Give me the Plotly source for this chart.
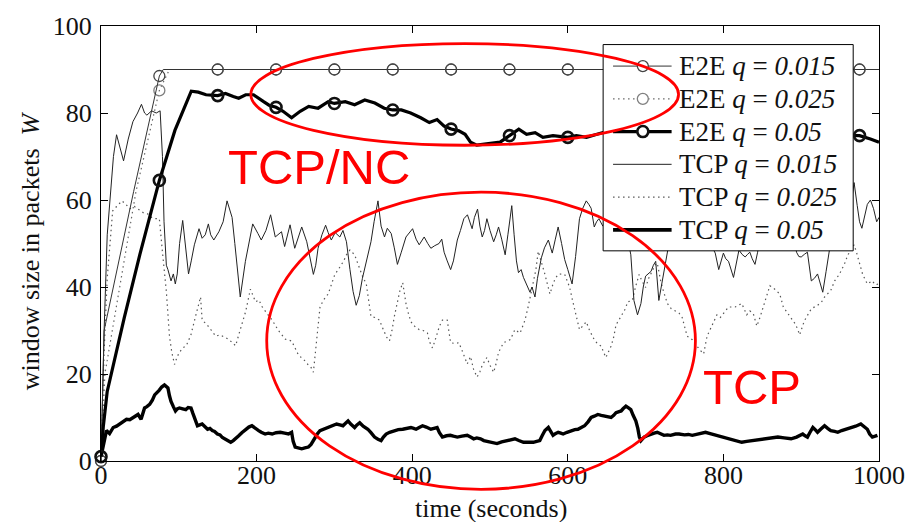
import numpy as np
import plotly.graph_objects as go

# ---------------- data ----------------
marker_times = [0, 75, 150, 225, 300, 375, 450, 525, 600, 675, 750, 825, 900, 975]

e2e_015_t = [0, 4, 42, 75, 80, 150, 225, 300, 375, 450, 525, 600, 675, 750, 825, 900, 975, 1000]
e2e_015_w = [0, 30, 62, 88.5, 90, 90, 90, 90, 90, 90, 90, 90, 90, 90, 90, 90, 90, 90]

e2e_025_t = [0, 5, 45, 75, 88, 150, 225, 300, 375, 450, 525, 600, 675, 750, 825, 900, 975, 1000]
e2e_025_w = [0, 20, 62, 85.2, 90, 90, 90, 90, 90, 90, 90, 90, 90, 90, 90, 90, 90, 90]

e2e_05_t = [0, 3, 8, 30, 50, 75, 95, 116, 125, 135, 150, 160, 170, 177, 186, 196, 209, 216,
            225, 234, 245, 256, 267, 279, 292, 300, 314, 326, 339, 352, 364, 375, 386, 398,
            411, 422, 432, 441, 450, 460, 468, 475, 483, 500, 513, 525, 537, 547, 558, 568,
            581, 600, 611, 624, 637, 645, 660, 675, 700, 725, 750, 775, 800, 825, 850, 875,
            900, 925, 950, 975, 989, 1000]
e2e_05_w = [1, 8, 16, 33, 47.5, 64.5, 76, 85, 84.8, 84.2, 84, 84.5, 83.8, 83.4, 84.2, 84.2, 82.6, 81.8,
            81.3, 80.4, 78.9, 80.4, 81.5, 81.1, 82.6, 82.2, 82.6, 81.9, 83, 82.3, 81.1, 80.7, 80.7, 80,
            78.9, 77.8, 78.5, 77, 76.3, 75.9, 75.1, 73.3, 72.6, 72.9, 73.3, 74.8, 76.3, 75.1, 75.5, 74.4,
            74.8, 74.4, 74.8, 74.4, 75.1, 75.5, 75, 74.8, 75, 74.6, 75, 74.8, 75, 74.6, 75, 74.8,
            75, 74.7, 74.9, 74.8, 74, 73.3]

tcp_015_t = [0, 4, 8, 12, 16, 20, 25, 29, 35, 41, 47, 52, 56, 59, 65, 71, 76, 79, 81, 84, 86, 90, 93,
             95.5, 98, 101, 105, 109, 112.5, 116, 120, 126, 130, 134, 138, 141, 145, 151.5, 157, 162,
             168.5, 172, 176, 179, 185.6, 190, 195, 201.7, 206, 212, 218, 224, 232, 236, 243, 249,
             258, 264.5, 270, 273, 276, 279, 284, 288.7, 292, 296, 301, 307, 311, 315.5, 320, 324,
             328, 332, 336, 341, 347, 351, 356, 360, 364.4, 368, 373, 377, 381, 386, 392, 400.5, 405,
             409, 415.4, 420, 424, 429, 434.5, 438, 441, 445, 449.4, 453, 458, 462, 466.4, 471, 474,
             477, 480, 484, 487, 490, 493, 496, 500, 504.7, 508, 511, 515, 519.5, 523, 526, 528, 531,
             534, 536.6, 540, 543, 547, 551.4, 554, 557.8, 561, 566, 570, 575, 578, 580, 584, 587.6,
             592, 596, 600, 605.5, 610, 615, 619, 623.7, 627, 630, 634, 637, 640, 645, 650, 656, 662,
             668, 674, 678, 681, 685, 689.6, 694, 697, 700, 707, 710, 713, 717, 720, 723, 728, 733,
             740, 748, 756, 764, 772, 780, 786, 789.5, 794, 797, 800, 803, 806.6, 813, 816, 820, 824,
             828, 831, 834, 837, 840.6, 844, 850, 858, 866, 874, 882, 890, 894, 897, 900, 904, 908,
             913, 917, 921, 924, 927.7, 932, 936, 942, 950, 958, 965, 968, 972, 975, 978, 981, 985,
             989, 993, 997, 1000]
tcp_015_w = [0, 30, 52, 62, 70, 75, 72, 69, 74, 78, 80, 82, 80, 79.5, 80.5, 80, 80.5, 70, 55, 45, 44, 41.4, 43,
             40.7, 43, 50, 55.3, 49, 43, 46, 49.7, 53.4, 51.2, 52, 54.5, 52, 50.8, 52.7, 55, 59.8,
             56, 50, 43, 37.7, 45.9, 50, 54.5, 52.3, 50.8, 53, 56.6, 51.5, 52.7, 49.3, 54.3, 48.9,
             53.8, 50.4, 46, 42.9, 45, 48.9, 52, 54.2, 52.5, 50.8, 52.5, 51.5, 53, 50.4, 44, 39,
             35.8, 38, 42, 45.9, 50.4, 55, 59.8, 54, 51.5, 53.5, 52.3, 49, 45.2, 48, 51.5, 53.4, 51,
             49.7, 51.5, 50, 48.9, 49.5, 50, 51, 48, 46, 44, 46, 50.8, 53, 55.7, 56.6, 55,
             53.4, 56, 57.9, 54, 51.5, 53, 55.7, 53, 50.4, 52, 53.8, 51, 47.4, 52, 57, 58.7, 52,
             46, 43.3, 44, 42.2, 40.5, 38.8, 40, 37.7, 42, 46.7, 49, 50.8, 49, 47.8, 51, 53.8,
             50, 46.3, 44, 40.7, 47, 55.7, 58, 59.8, 59, 58.1, 53.8, 55, 55.7, 54, 56, 58, 55,
             57, 54, 50, 47.4, 36.9, 33.6, 36.2, 40, 42.5, 43.6, 45, 45.9, 36.9, 40, 43.6, 48.2, 53,
             57, 55, 58, 54, 56, 53, 49, 47.8, 44, 46, 47.8, 46.5, 45.9, 42.2, 45, 48.5, 47.5,
             46.9, 47.5, 48, 46.5, 45.2, 48, 55, 58, 54, 57, 55, 52, 48, 47, 46.9, 47.5, 48,
             41.4, 42, 43, 41, 38.8, 43.6, 48.5, 55, 58, 55, 60, 64, 58.7, 55, 53.5, 55.7, 59,
             60, 58, 55, 56]

tcp_025_t = [0, 4, 8, 12, 15, 20, 27, 32, 37, 43, 50, 55, 60, 65, 69, 75, 79, 84, 88, 91, 94.5, 98, 101,
             105, 109.6, 115.6, 122, 128, 130, 136.5, 142, 147.5, 153, 160, 164, 168.8, 173, 179.5,
             186, 192, 198.6, 203, 207, 213, 220, 228, 237, 245, 251.7, 254, 260, 264, 266.6, 270,
             273, 277, 281.5, 286, 292, 296, 300.6, 305, 309, 312, 315.5, 320, 326, 329, 332.5, 336,
             341, 344, 347, 352, 358, 361, 364.4, 367, 370.8, 374, 377, 381.4, 384, 387.8, 392, 395,
             398.4, 403, 409, 414, 419.6, 422, 426, 429, 432.4, 435, 438.8, 445, 447, 449.4, 455,
             460, 465, 470.7, 475, 479, 483.4, 487, 490, 496, 500, 504.7, 508, 511, 517.5, 526, 529,
             532, 538.7, 542, 545, 549, 552, 555.7, 559, 562, 566, 570.6, 574, 577, 581, 584, 587.6,
             592, 596, 599, 602.4, 606, 609, 612, 615, 619, 623.7, 628, 634, 638, 643, 646, 649,
             652, 655.6, 659, 662, 666, 670.5, 674, 677, 683, 687, 691.7, 695, 700, 704, 708.8,
             712, 715, 719.4, 723, 728, 733, 738.5, 743, 747, 750, 753.4, 760, 763, 766, 770,
             774.6, 779, 785, 791.7, 796, 800, 806.6, 815, 823.6, 830, 834, 838.4, 843, 847, 851,
             855, 859.7, 866, 872.4, 877, 883, 887, 891.6, 895, 898, 904, 908, 913, 921, 926, 930,
             938, 943, 949, 955.4, 960, 964, 968, 971, 974.5, 979, 985, 991.5, 995, 1000]
tcp_025_w = [0, 25, 42, 52, 57.5, 58.5, 59.8, 59, 58, 58.5, 57.5, 57, 56.8, 56, 55.7, 55.7, 48, 39, 28.7, 25,
             22.2, 24, 25, 26, 26.5, 29, 33.6, 37.7, 32.4, 31.3, 30, 28.7, 29, 28.3, 28, 27.2, 26.5,
             30.5, 34.4, 39.5, 36.6, 37, 35.5, 34, 32.4, 30, 28, 27.6, 25, 24.3, 23.4, 22.7, 22, 21.5,
             20.4, 27.9, 35.4, 37, 38.4, 40.5, 42.9, 44, 45.2, 46, 47.4, 48.5, 47.4, 46, 44, 42.5,
             40.7, 37, 33.2, 33, 32.4, 31, 29.4, 28.5, 27.6, 30, 33.2, 36.9, 39, 41, 36.2, 34,
             32, 31, 30.2, 30, 29.4, 27.5, 26, 27.5, 29.4, 31, 32.4, 32.4, 30, 27.2, 27,
             27.2, 25, 22.3, 24, 21, 19.3, 20.5, 22, 23.8, 22, 20.4, 22.5, 25, 27.2, 27.9, 29,
             30.2, 29.4, 31, 32.4, 35.4, 38, 40.7, 44, 48.2, 45.9, 42.9, 40.5, 38.4, 40.7, 42, 42.9,
             43, 42.9, 41.5, 39.9, 37, 34.7, 32.5, 30.2, 31, 32, 30, 27.9, 27, 26.4, 25, 23.8,
             25, 26.4, 28.5, 31.3, 32.5, 33.9, 35, 36.6, 36.9, 40, 42.9, 41.5, 39.9, 42, 43.7,
             45, 45.5, 41.4, 39, 36.2, 35, 34.5, 34, 33, 31, 28.7, 27.9, 27, 26.4, 25.5,
             24.6, 28.7, 31, 33.6, 33, 34, 35.4, 35.4, 36.2, 33.6, 34.5, 33.9, 31, 33, 35.4,
             38, 40.3, 39.5, 38.4, 35.4, 33.9, 33, 31.7, 30.5, 29, 32.2, 33.5, 35, 35.8, 36.5, 37.7,
             39.2, 41.4, 42.9, 45.2, 47.4, 48.5, 49.7, 48, 45.9, 42.9, 40.7, 41.4, 40.5, 40.7]

tcp_05_t = [0, 3, 7, 11, 15.7, 20, 24, 28, 32.8, 37, 41, 44, 47.6, 51.5, 56, 59, 62.5, 66, 69, 75, 78,
            81.6, 86, 88, 90, 93, 95.7, 98, 100.8, 105, 109, 112, 115.7, 118, 120, 122, 124, 127,
            130, 133, 137, 140, 143, 146, 149.6, 153, 156, 160, 163, 166.7, 170, 173, 177, 181,
            185.8, 190, 194, 198, 202.6, 206, 211, 215, 220, 225, 230.5, 236, 241, 245, 247, 249.6,
            254, 258, 262, 266.6, 270, 273, 275, 278, 281.5, 286, 292, 297, 302.8, 307, 311, 314,
            317.6, 321, 326, 329, 332.5, 337, 343, 347, 351.6, 356, 360, 363, 366.5, 371, 377, 382,
            387.8, 393, 398.4, 402, 405, 409, 413.3, 418, 424, 428, 432, 435, 438.8, 444, 449, 453,
            458, 464, 470.7, 475, 479, 483, 487.8, 492, 496, 502, 509, 515, 522, 527, 532, 537,
            543, 549, 555.7, 560, 564, 567, 570.6, 575, 578, 581, 584, 587.6, 591, 594, 599, 604.6,
            609, 613, 617, 621.6, 626, 630, 634, 638.6, 643, 647, 651, 655.6, 659, 662, 665, 668.6,
            671, 674.7, 678, 681, 684, 687.5, 690, 692, 694, 698, 702, 707, 711, 715, 719, 723.6,
            728, 732, 738.5, 743, 750, 755, 760, 766, 772, 777, 783, 789, 794, 800, 805, 811,
            817, 823.6, 830, 838, 845, 853, 861, 870, 878, 887, 894, 898, 902, 905, 908, 911,
            915, 918, 921, 925, 930, 934, 938, 943, 947, 952, 957.5, 962, 966, 970, 976.6, 980,
            985, 988, 991.5, 995, 998]
tcp_05_w = [1, 4, 7, 6.3, 7.7, 8, 8.5, 9, 9.6, 9.5, 10, 10.2, 10.7, 9.6, 12.2, 12.5, 13, 14, 15.2, 16.3, 17,
            17.5, 16.8, 15, 13.7, 12.5, 11.5, 12, 12.2, 12, 11.8, 12.3, 12.2, 11, 10, 9, 8.1, 8.3,
            8.5, 8, 7.3, 7.5, 7, 6.8, 6.2, 6, 5.4, 5, 4.6, 4.3, 4.7, 5.1, 5.8, 6.5,
            7.3, 7.8, 8.1, 7.5, 7, 6.6, 6.2, 6.4, 6.2, 6.5, 6.6, 6.4, 6.2, 6.6, 4.5, 3.2,
            3, 2.8, 3, 3.2, 3.8, 4.8, 5.5, 6.2, 7, 7.3, 7.7, 8, 8.5, 8.3, 8.1, 8.6,
            9.2, 8.5, 7.7, 8.3, 8.8, 8, 7.3, 6.5, 5.5, 5, 4.7, 5.5, 6.2, 6.6, 7, 7.2,
            7.3, 7.5, 7.7, 7.5, 7.3, 7.7, 8.1, 7.8, 7.3, 7.5, 7.7, 6.5, 5.5, 5.8, 5.9, 5.7,
            5.5, 5.7, 5.9, 5.5, 5.1, 5.3, 5.1, 4.7, 4.5, 4.3, 4, 4.4, 4.7, 4.9, 5.1, 4.7,
            4.3, 4.3, 4.3, 4.5, 4.7, 5.8, 7, 7.7, 6.8, 5.9, 6.3, 6.6, 6.4, 6.2, 6.6, 7,
            7.2, 7.3, 7.7, 8.1, 9, 10, 10.3, 10.7, 10.5, 10.3, 10.1, 10, 10.5, 11.1, 11.3, 11.5,
            12, 12.6, 12.2, 11.8, 10.5, 9.2, 7.5, 5.5, 4.7, 5.5, 5.8, 6.2, 6.4, 6.6, 6.2, 5.9,
            6, 5.9, 6.2, 6.2, 6, 6.1, 5.9, 6.2, 6.4, 6.6, 6.3, 6, 5.9, 5.6, 5.4, 5.1,
            4.7, 4.3, 4.5, 4.7, 4.9, 5.1, 5.3, 5.5, 5.3, 5.1, 5.5, 5.9, 6.2, 5.8, 5.5, 6.5,
            7.7, 7.2, 6.6, 7.3, 8.1, 7.5, 7, 6.8, 6.6, 7, 7.3, 7.5, 7.7, 8, 8.5, 8,
            7.3, 6.2, 5.5, 5.7, 5.9]

x_ticks = [0, 200, 400, 600, 800, 1000]
y_ticks = [0, 20, 40, 60, 80, 100]

legend_labels = ["E2E <i>q</i> = <i>0.015</i>", "E2E <i>q</i> = <i>0.025</i>", "E2E <i>q</i> = <i>0.05</i>",
                 "TCP <i>q</i> = <i>0.015</i>", "TCP <i>q</i> = <i>0.025</i>", "TCP <i>q</i> = <i>0.05</i>"]

# ---------------- styles ----------------
DOT = "1.5px,3.5px"
styles = [
    dict(color="#333333", width=1.0, dash="solid", marker=True, mcolor="#444444", mwidth=1.3),
    dict(color="#666666", width=1.2, dash=DOT, marker=True, mcolor="#808080", mwidth=1.3),
    dict(color="#000000", width=3.2, dash="solid", marker=True, mcolor="#111111", mwidth=2.6),
    dict(color="#222222", width=1.0, dash="solid", marker=False),
    dict(color="#555555", width=1.2, dash=DOT, marker=False),
    dict(color="#000000", width=3.4, dash="solid", marker=False),
]

series = [(e2e_015_t, e2e_015_w), (e2e_025_t, e2e_025_w), (e2e_05_t, e2e_05_w),
          (tcp_015_t, tcp_015_w), (tcp_025_t, tcp_025_w), (tcp_05_t, tcp_05_w)]

fig = go.Figure()
draw_order = [4, 3, 5, 1, 0, 2]
for i in draw_order:
    t, w = series[i]
    st = styles[i]
    fig.add_trace(go.Scatter(x=t, y=w, mode="lines", showlegend=False,
                             line=dict(color=st["color"], width=st["width"], dash=st["dash"])))
    if st["marker"]:
        t_arr = np.array(t, dtype=float)
        w_arr = np.array(w, dtype=float)
        mask = np.isin(t_arr, marker_times)
        fig.add_trace(go.Scatter(x=t_arr[mask], y=w_arr[mask], mode="markers", showlegend=False,
                                 cliponaxis=False,
                                 marker=dict(symbol="circle-open", size=11, color=st["mcolor"],
                                             line=dict(width=st["mwidth"]))))

# ---------------- layout geometry (pixels) ----------------
W, H = 917, 522
L, R, T, B = 101, 885, 16, 461
pw, ph = R - L, B - T


def px(x):
    return (x - L) / pw


def py(y):
    return (B - y) / ph


serif = "Liberation Serif"
axis_common = dict(showline=True, linecolor="black", linewidth=1, mirror="ticks",
                   ticks="inside", ticklen=7, tickwidth=1, tickcolor="black",
                   showgrid=False, zeroline=False,
                   tickfont=dict(family=serif, size=26, color="#111111"))
fig.update_xaxes(range=[0, 1000], tickvals=x_ticks, ticklabelstandoff=-9, **axis_common)
fig.update_yaxes(range=[0, 100], tickvals=y_ticks, ticklabelstandoff=3, **axis_common)

shapes = []
annotations = []

# axis titles
annotations.append(dict(text="time (seconds)", x=px(494), y=py(510), xref="paper", yref="paper",
                        showarrow=False, xanchor="center", yanchor="middle",
                        font=dict(family=serif, size=26, color="#111111")))
annotations.append(dict(text="window size in packets  <i>W</i>", x=px(30), y=py(246), xref="paper",
                        yref="paper", showarrow=False, textangle=-90, xanchor="center",
                        yanchor="middle", font=dict(family=serif, size=26, color="#111111")))

# manual legend
shapes.append(dict(type="rect", xref="paper", yref="paper", x0=px(607), x1=px(859), y0=py(246),
                   y1=py(35), fillcolor="white", line=dict(color="black", width=1), layer="above"))
rows = [57, 90.5, 124, 157.5, 191, 224.5]
for k in range(6):
    st = styles[k]
    yy = py(rows[k])
    shapes.append(dict(type="line", xref="paper", yref="paper", x0=px(617), x1=px(676), y0=yy, y1=yy,
                       line=dict(color=st["color"], width=st["width"] + (0.4 if k == 5 else 0),
                                 dash=st["dash"]), layer="above"))
    if st["marker"]:
        shapes.append(dict(type="circle", xref="paper", yref="paper", xsizemode="pixel",
                           ysizemode="pixel", xanchor=px(647), yanchor=yy, x0=-5.5, x1=5.5,
                           y0=-5.5, y1=5.5, fillcolor="white",
                           line=dict(color=st["mcolor"], width=st["mwidth"]), layer="above"))
    annotations.append(dict(text=legend_labels[k], x=px(681), y=yy, xref="paper", yref="paper",
                            showarrow=False, xanchor="left", yanchor="middle",
                            font=dict(family=serif, size=27, color="#111111")))

# red ellipses and labels
red = "#ff0000"
shapes.append(dict(type="circle", xref="paper", yref="paper", x0=px(252), x1=px(683), y0=py(138),
                   y1=py(34), line=dict(color=red, width=2.8), layer="above"))
shapes.append(dict(type="circle", xref="paper", yref="paper", x0=px(268), x1=px(700), y0=py(490),
                   y1=py(186), line=dict(color=red, width=2.8), layer="above"))
annotations.append(dict(text="TCP/NC", x=px(321), y=py(160), xref="paper", yref="paper",
                        showarrow=False, xanchor="center", yanchor="middle",
                        font=dict(family="Liberation Sans", size=49, color=red)))
annotations.append(dict(text="TCP", x=px(757), y=py(385), xref="paper", yref="paper",
                        showarrow=False, xanchor="center", yanchor="middle",
                        font=dict(family="Liberation Sans", size=49, color=red)))

fig.update_layout(width=W, height=H, margin=dict(l=L, r=W - R, t=T, b=H - B),
                  paper_bgcolor="white", plot_bgcolor="white", showlegend=False,
                  shapes=shapes, annotations=annotations)

fig.write_html("out.html")
